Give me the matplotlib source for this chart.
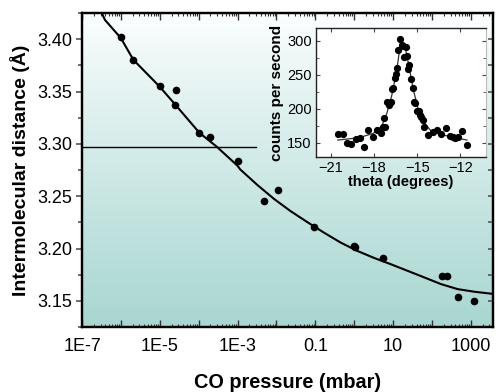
import matplotlib.pyplot as plt
import numpy as np
from matplotlib.ticker import LogLocator, MultipleLocator, NullFormatter, FuncFormatter

plt.rcParams['font.family'] = ['Liberation Sans', 'DejaVu Sans']

# main panel: intermolecular distance vs CO pressure
pressure = [1.0e-6, 2.1e-6, 1.0e-5, 2.6e-5, 2.5e-5, 1.0e-4, 2.0e-4, 1.0e-3,
            4.9e-3, 1.1e-2, 0.09, 1.0, 1.02, 5.4, 183, 250, 470, 1230]
distance = [3.4025, 3.3803, 3.3549, 3.3517, 3.3374, 3.3105, 3.3063, 3.2838,
            3.2453, 3.2555, 3.2210, 3.2025, 3.2012, 3.1908, 3.1736, 3.1736,
            3.1536, 3.1498]

# fitted curve (log10 of pressure)
fit_logp = [-6.49, -6.41, -6.0, -5.68, -5.01, -4.60, -3.98, -3.53, -3.0,
            -2.93, -2.50, -2.07, -1.64, -1.21, -0.78, -0.35, 0.08, 0.51,
            0.94, 1.37, 1.80, 2.23, 2.66, 3.09, 3.60]
fit_dist = [3.4248, 3.4184, 3.4010, 3.3803, 3.3549, 3.3374, 3.3105, 3.2971,
            3.2790, 3.2755, 3.2610, 3.2476, 3.2358, 3.2253, 3.2152, 3.2057,
            3.1977, 3.1910, 3.1850, 3.1787, 3.1724, 3.1660, 3.1612, 3.1587,
            3.1565]

# horizontal reference line
ref_level = 3.2971
ref_end = 2.9e-3

# inset: rocking curve
theta = [-20.53, -20.18, -19.90, -19.63, -19.26, -18.98, -18.70, -18.40, -18.09,
         -17.81, -17.49, -17.39, -17.30, -17.21, -17.07, -16.93, -16.83, -16.74,
         -16.65, -16.55, -16.49, -16.42, -16.32, -16.18, -16.09, -16.00, -15.91,
         -15.81, -15.72, -15.63, -15.54, -15.42, -15.30, -15.21, -15.12, -15.02,
         -14.88, -14.79, -14.70, -14.60, -14.51, -14.21, -13.90, -13.62, -13.34,
         -13.02, -12.74, -12.51, -12.35, -12.12, -11.88, -11.53]
counts = [162.8, 162.8, 149.1, 148.1, 155.9, 157.4, 143.7, 169.1, 158.8,
          169.1, 163.8, 172.6, 185.8, 172.6, 210.3, 205.4, 210.3, 229.0,
          230.4, 244.7, 251.0, 260.3, 287.3, 302.9, 293.7, 292.2, 276.5,
          291.2, 278.0, 257.9, 264.3, 243.2, 229.9, 210.3, 207.9, 197.1,
          197.1, 190.3, 188.2, 183.4, 173.5, 161.3, 165.2, 168.7, 162.3,
          171.6, 159.9, 157.9, 156.4, 157.9, 167.7, 146.6]
curve_theta = [-20.53, -19.70, -18.98, -18.05, -17.47, -17.12, -16.77, -16.42,
               -16.18, -16.07, -15.84, -15.61, -15.26, -14.91, -14.56, -14.09,
               -13.39, -12.46, -11.53]
curve_counts = [154.0, 155.8, 157.9, 163.8, 174.5, 192.6, 219.6, 256.9,
                293.7, 298.5, 291.2, 266.7, 227.5, 198.1, 180.9, 168.7,
                162.3, 157.9, 154.0]

fig = plt.figure(figsize=(4.98, 3.92), dpi=100)
ax = fig.add_axes([0.1647, 0.1658, 0.8243, 0.801])

# gradient background
grad = np.linspace(0, 1, 256).reshape(-1, 1)
top_c = np.array([0.99, 1.0, 1.0])
bot_c = np.array([0.66, 0.84, 0.82])
img = top_c + (bot_c - top_c) * grad[:, :, None] ** 0.9
ax.imshow(img, extent=[0, 1, 0, 1], transform=ax.transAxes, aspect='auto',
          zorder=0, origin='upper')

ax.set_xscale('log')
ax.set_xlim(1e-7, 3.6e3)
ax.set_ylim(3.125, 3.425)

ax.plot(10 ** np.array(fit_logp), fit_dist, color='black', lw=1.5, zorder=2)
ax.plot([1e-7, ref_end], [ref_level, ref_level], color='black', lw=1.0, zorder=2)
ax.plot(pressure, distance, 'o', color='black', ms=4.5, zorder=3)

label_exps = {-7: '1E-7', -5: '1E-5', -3: '1E-3', -1: '0.1', 1: '10', 3: '1000'}
ax.xaxis.set_major_locator(LogLocator(base=10, numticks=20))
ax.xaxis.set_minor_locator(LogLocator(base=10, subs=np.arange(2, 10), numticks=20))
ax.xaxis.set_major_formatter(FuncFormatter(
    lambda v, p: label_exps.get(int(round(np.log10(v))), '')))
ax.xaxis.set_minor_formatter(NullFormatter())
ax.tick_params(axis='x', which='both', direction='in', top=True, labelsize=13,
               pad=8, color='#333333')
ax.tick_params(axis='x', which='major', length=5, width=1)
ax.tick_params(axis='x', which='minor', length=2.5, width=0.8)

ax.yaxis.set_major_locator(MultipleLocator(0.05))
ax.yaxis.set_minor_locator(MultipleLocator(0.025))
ax.yaxis.set_major_formatter(FuncFormatter(lambda v, p: f'{v:.2f}'))
ax.tick_params(axis='y', which='both', direction='out', labelsize=13, pad=3,
               color='#555555', width=1.2)
ax.tick_params(axis='y', which='major', length=4)
ax.tick_params(axis='y', which='minor', length=3)

axr = ax.twinx()
axr.set_ylim(ax.get_ylim())
axr.yaxis.set_major_locator(MultipleLocator(0.05))
axr.yaxis.set_minor_locator(MultipleLocator(0.025))
axr.tick_params(axis='y', which='both', direction='in', labelright=False,
                length=3.5, width=1.2, color='#555555')

for a in (ax, axr):
    for s in a.spines.values():
        s.set_linewidth(1.6)

ax.set_xlabel('CO pressure (mbar)', fontsize=14.3, fontweight='bold', labelpad=13)
ax.set_ylabel('Intermolecular distance (Å)', fontsize=14, fontweight='bold',
              labelpad=5)

# inset
ins = fig.add_axes([0.6345, 0.5995, 0.3415, 0.3291])
ins.set_facecolor('white')
ins.plot(curve_theta, curve_counts, color='#333333', lw=0.9, zorder=2)
ins.plot(theta, counts, 'o', color='black', ms=4.2, zorder=3)
ins.set_xlim(-22.05, -10.2)
ins.set_ylim(129, 319)
ins.set_xticks([-21, -18, -15, -12])
ins.yaxis.set_major_locator(MultipleLocator(50))
ins.yaxis.set_minor_locator(MultipleLocator(25))
ins.tick_params(axis='both', which='both', direction='in', top=True, right=True,
                labelsize=10.5, pad=3, color='#444444')
ins.tick_params(axis='both', which='major', length=3)
ins.tick_params(axis='both', which='minor', length=2)
ins.set_xlabel('theta (degrees)', fontsize=10.5, fontweight='bold', labelpad=0)
ins.set_ylabel('counts per second', fontsize=11, fontweight='bold', labelpad=2)
for side in ('left', 'bottom', 'top'):
    ins.spines[side].set_linewidth(1.0)
    ins.spines[side].set_color('#222222')
ins.spines['right'].set_color('#bbbbbb')

fig.savefig('out.png', dpi=100)
